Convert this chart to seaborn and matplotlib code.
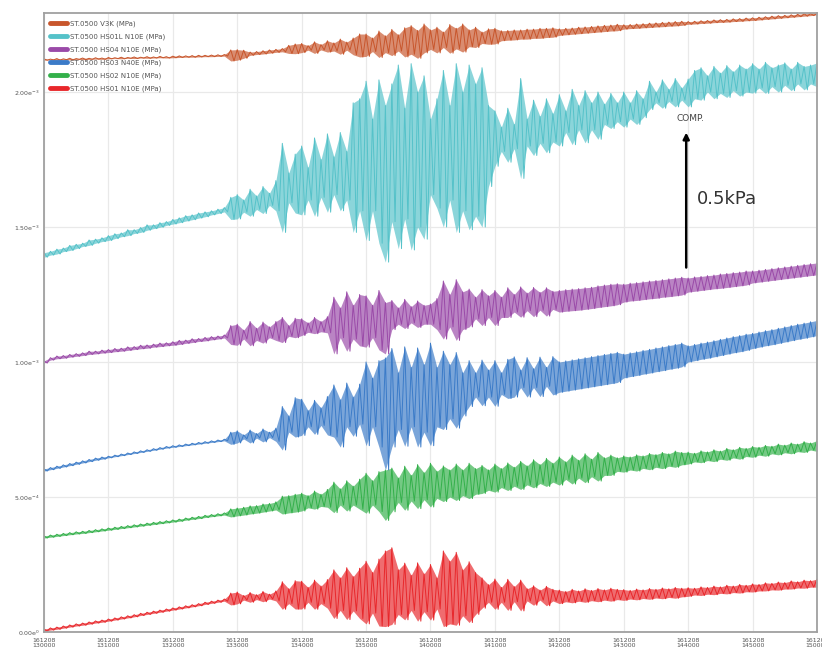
import numpy as np
import pandas as pd
import matplotlib
matplotlib.use("Agg")
import matplotlib.pyplot as plt
import seaborn as sns
from matplotlib.ticker import MultipleLocator, FixedLocator

# ---------------- data (values in Pa, per-minute max / min of each trace) -------------
minutes = list(range(121))  # minutes after 13:00:00

series_names = ["ST.0500 V3K (MPa)", "ST.0500 HS01L N10E (MPa)", "ST.0500 HS04 N10E (MPa)",
                "ST.0500 HS03 N40E (MPa)", "ST.0500 HS02 N10E (MPa)", "ST.0500 HS01 N10E (MPa)"]
series_colors = ["#c8562c", "#55c2c9", "#9a4aa8", "#3b7bc8", "#33b04a", "#e8272b"]

x_tick_minutes = list(range(0, 121, 10))
x_tick_labels = ["161208\n130000", "161208\n131000", "161208\n132000", "161208\n133000",
                 "161208\n134000", "161208\n135000", "161208\n140000", "161208\n141000",
                 "161208\n142000", "161208\n143000", "161208\n144000", "161208\n145000",
                 "161208\n150000"]
y_ticks = [0.0, 5e-4, 1e-3, 1.5e-3, 2e-3]
y_tick_labels = [r"0.00e$^{0}$", r"5.00e$^{-4}$", r"1.00e$^{-3}$", r"1.50e$^{-3}$", r"2.00e$^{-3}$"]

orange_hi = [2123,2122,2124,2123,2125,2124,2126,2125,2127,2126,
             2128,2127,2129,2128,2130,2129,2131,2130,2132,2131,
             2133,2134,2134,2135,2136,2136,2137,2138,2139,2156,
             2157,2155,2148,2150,2153,2156,2158,2161,2173,2178,
             2180,2172,2186,2176,2190,2182,2196,2185,2200,2215,
             2215,2200,2226,2208,2232,2212,2238,2246,2228,2252,
             2230,2240,2222,2250,2236,2252,2230,2240,2222,2234,
             2236,2227,2228,2230,2230,2233,2233,2236,2236,2238,
             2234,2236,2237,2240,2241,2243,2245,2247,2248,2251,
             2249,2250,2252,2253,2255,2256,2258,2259,2261,2262,
             2261,2262,2264,2265,2267,2268,2269,2271,2272,2274,
             2275,2277,2279,2281,2283,2284,2286,2288,2290,2291,2292]
orange_lo = [2118,2119,2118,2120,2119,2121,2120,2121,2122,2121,
             2123,2124,2123,2125,2124,2126,2125,2126,2127,2126,
             2127,2128,2129,2129,2130,2131,2131,2132,2133,2115,
             2118,2125,2136,2139,2141,2144,2147,2149,2143,2142,
             2146,2155,2143,2156,2148,2152,2140,2155,2138,2130,
             2132,2150,2128,2146,2135,2152,2130,2140,2125,2145,
             2158,2145,2165,2144,2160,2148,2168,2165,2180,2177,
             2178,2190,2192,2193,2196,2196,2199,2199,2202,2203,
             2210,2212,2214,2216,2218,2220,2222,2224,2226,2227,
             2233,2235,2236,2238,2239,2241,2242,2244,2245,2247,
             2251,2252,2254,2255,2257,2258,2259,2261,2262,2264,
             2265,2267,2269,2271,2273,2275,2277,2279,2281,2283,2286]

cyan_hi = [1405,1410,1418,1422,1432,1436,1440,1452,1455,1460,
           1468,1475,1478,1490,1490,1498,1508,1508,1516,1520,
           1528,1534,1542,1545,1552,1556,1560,1566,1572,1610,
           1620,1600,1640,1615,1650,1625,1672,1810,1700,1770,
           1800,1720,1830,1750,1845,1760,1850,1780,1960,1975,
           2040,1900,2045,1950,2030,2100,1940,2105,2000,2060,
           1900,1975,2080,1950,2105,2000,2100,2030,2090,1950,
           1930,1870,1940,1880,2050,1900,1970,1910,1975,1920,
           1990,1930,2010,1950,2005,1960,2000,1955,1995,1960,
           2000,1960,2005,1975,2040,2000,2045,2010,2050,2015,
           2048,2080,2090,2060,2095,2070,2098,2075,2100,2085,
           2105,2085,2110,2090,2100,2108,2085,2110,2095,2100,2108]
cyan_lo = [1388,1396,1400,1409,1413,1420,1428,1432,1440,1446,
           1450,1457,1464,1468,1476,1480,1488,1494,1499,1506,
           1511,1516,1522,1527,1533,1538,1545,1550,1556,1528,
           1530,1555,1540,1565,1550,1580,1560,1480,1590,1552,
           1545,1600,1540,1610,1555,1620,1560,1600,1480,1560,
           1450,1560,1440,1370,1520,1420,1530,1415,1500,1455,
           1620,1570,1500,1600,1480,1560,1490,1540,1500,1650,
           1725,1780,1740,1790,1680,1800,1765,1810,1775,1815,
           1800,1850,1805,1860,1812,1860,1825,1880,1865,1890,
           1870,1900,1880,1905,1935,1960,1940,1965,1945,1970,
           1945,1975,1970,2000,1975,1995,1980,2005,1985,2000,
           1996,2015,1995,2020,2000,2025,2005,2030,2008,2030,2020]

purple_hi = [1004,1016,1022,1024,1028,1031,1034,1040,1040,1044,
             1046,1050,1051,1056,1057,1062,1063,1066,1070,1071,
             1075,1080,1081,1086,1087,1091,1094,1096,1100,1135,
             1140,1118,1150,1125,1148,1130,1150,1165,1135,1162,
             1160,1145,1165,1150,1168,1240,1200,1260,1210,1250,
             1245,1210,1265,1220,1228,1200,1232,1205,1226,1210,
             1215,1235,1300,1250,1305,1260,1270,1240,1268,1245,
             1265,1240,1275,1250,1278,1255,1276,1258,1275,1262,
             1265,1268,1270,1272,1275,1277,1282,1285,1288,1290,
             1288,1292,1294,1297,1300,1302,1305,1308,1311,1314,
             1311,1315,1317,1320,1322,1326,1328,1331,1333,1337,
             1337,1340,1343,1346,1349,1352,1355,1358,1361,1364,1367]
purple_lo = [996,1007,1012,1014,1018,1021,1024,1028,1030,1033,
             1035,1038,1040,1043,1046,1049,1051,1055,1057,1060,
             1062,1065,1069,1072,1076,1078,1082,1085,1089,1065,
             1062,1085,1060,1080,1070,1090,1080,1072,1095,1090,
             1098,1110,1105,1112,1108,1030,1090,1040,1085,1060,
             1055,1090,1045,1030,1120,1140,1124,1145,1128,1140,
             1140,1120,1085,1130,1080,1120,1130,1160,1135,1165,
             1135,1165,1165,1185,1166,1190,1168,1192,1170,1195,
             1185,1188,1190,1192,1195,1198,1202,1205,1208,1212,
             1222,1226,1228,1231,1234,1236,1240,1242,1245,1248,
             1259,1262,1265,1268,1271,1273,1276,1279,1282,1285,
             1293,1296,1299,1302,1305,1308,1311,1314,1317,1320,1323]

blue_hi = [604,609,614,619,624,629,634,639,644,648,
           651,655,659,663,667,671,675,679,683,687,
           690,693,696,699,702,705,708,711,714,740,
           745,730,748,735,752,740,755,835,800,868,
           862,820,858,830,872,915,860,922,870,918,
           1000,940,1005,1015,1050,960,1056,980,1052,990,
           1070,980,1040,990,1035,960,1005,960,1007,970,
           1005,960,1010,1019,970,1016,975,1018,980,1020,
           1000,1004,1008,1012,1016,1020,1024,1028,1032,1036,
           1029,1034,1038,1043,1047,1052,1056,1061,1065,1070,
           1060,1065,1070,1074,1079,1084,1089,1094,1098,1103,
           1106,1111,1116,1120,1125,1130,1135,1140,1144,1149,1154]
blue_lo = [596,601,606,611,616,621,626,631,636,640,
           645,649,653,657,661,665,669,673,677,681,
           684,687,690,693,696,699,702,705,708,695,
           700,715,700,718,704,720,706,674,740,722,
           728,760,732,765,730,722,685,760,725,770,
           690,760,685,600,685,750,688,760,685,740,
           690,760,750,790,755,800,835,870,838,870,
           836,880,865,870,905,870,905,872,910,878,
           888,892,896,900,904,908,912,916,920,924,
           941,946,950,955,959,964,968,973,977,982,
           1000,1005,1010,1014,1019,1024,1029,1034,1038,1043,
           1050,1055,1060,1064,1069,1074,1079,1084,1088,1093,1098]

green_hi = [356,359,362,365,368,371,373,376,379,382,
            385,388,391,394,397,400,403,406,409,412,
            415,418,422,425,428,432,435,438,441,456,
            459,462,467,468,474,476,482,503,505,510,
            514,505,522,510,528,555,530,560,540,566,
            588,560,594,600,607,570,614,580,620,590,
            625,595,615,600,622,600,625,605,617,600,
            622,605,626,610,632,615,638,620,643,625,
            648,630,655,636,660,640,665,645,655,645,
            652,648,656,652,661,657,665,660,670,665,
            666,662,671,667,675,670,680,675,684,680,
            687,684,691,688,696,692,700,696,705,700,709]
green_lo = [348,351,354,357,360,363,365,368,371,374,
            377,380,383,386,389,392,395,398,401,404,
            407,410,414,417,420,424,427,430,433,426,
            430,433,437,440,444,448,452,437,441,444,
            448,460,455,465,462,442,470,448,470,455,
            440,470,446,413,445,480,451,485,457,490,
            463,495,483,500,487,505,494,510,513,525,
            518,535,524,540,528,545,534,550,539,555,
            544,565,548,570,553,575,559,580,580,595,
            592,600,596,606,601,610,605,614,610,619,
            622,630,627,635,631,640,636,645,640,650,
            647,655,651,660,656,664,660,668,665,674,669]

red_hi = [11,15,18,22,26,30,33,37,41,44,
          48,52,56,60,64,69,73,77,81,85,
          89,93,97,101,105,110,114,118,122,144,
          148,135,146,138,150,140,152,186,160,190,
          188,165,192,170,194,230,200,238,205,236,
          262,220,270,300,312,230,255,210,256,215,
          250,200,300,262,295,230,260,220,200,175,
          196,165,195,168,192,160,171,155,169,158,
          155,150,158,152,160,154,161,156,162,158,
          157,154,159,156,161,158,163,160,165,162,
          164,162,167,165,170,167,173,170,176,173,
          178,176,182,180,185,183,189,186,192,190,196]
red_lo = [3,7,10,14,18,22,25,29,33,36,
          40,44,48,52,56,61,65,69,73,77,
          81,85,89,93,97,102,106,110,114,100,
          104,118,110,120,112,122,115,84,105,85,
          85,110,84,105,88,50,80,46,78,50,
          30,70,22,20,28,65,45,80,40,75,
          44,85,20,30,25,60,35,65,88,110,
          84,110,80,112,78,115,99,118,97,115,
          105,112,108,114,110,116,112,118,114,120,
          117,122,119,124,121,126,123,128,125,130,
          132,137,135,140,138,143,141,146,144,149,
          148,152,152,156,155,159,159,163,162,166,166]

hi_lists = [orange_hi, cyan_hi, purple_hi, blue_hi, green_hi, red_hi]
lo_lists = [orange_lo, cyan_lo, purple_lo, blue_lo, green_lo, red_lo]

# scale bar annotation (0.5 kPa)
scale_value_mpa = 5e-4
scale_label = "0.5kPa"

# ---------------- build table ----------------
records = []
for name, hi, lo in zip(series_names, hi_lists, lo_lists):
    for m, h, l in zip(minutes, hi, lo):
        records.append((name, m, h * 1e-6))
        records.append((name, m + 0.5, l * 1e-6))
df = pd.DataFrame(records, columns=["series", "minute", "MPa"])

# ---------------- plot ----------------
sns.set_style("white")
plt.rcParams['font.family'] = ['DejaVu Sans']

fig = plt.figure(figsize=(8.22, 6.57), dpi=100)
ax = fig.add_axes([0.0535, 0.0381, 0.9404, 0.9422])

# envelope band (per-minute max / min)
for name, col, hi, lo in zip(series_names, series_colors, hi_lists, lo_lists):
    ax.fill_between(minutes, np.array(lo) * 1e-6, np.array(hi) * 1e-6,
                    color=col, alpha=0.68, linewidth=0)

sns.lineplot(data=df, x="minute", y="MPa", hue="series", hue_order=series_names,
             palette=dict(zip(series_names, series_colors)), estimator=None,
             linewidth=0.7, ax=ax, legend=True)

ax.set_xlim(0, 120)
ax.set_ylim(0, 2.293e-3)
ax.set_xlabel("")
ax.set_ylabel("")

ax.xaxis.set_major_locator(FixedLocator(x_tick_minutes))
ax.set_xticklabels(x_tick_labels)
ax.xaxis.set_minor_locator(MultipleLocator(2))
ax.yaxis.set_major_locator(FixedLocator(y_ticks))
ax.set_yticklabels(y_tick_labels)
ax.yaxis.set_minor_locator(MultipleLocator(1e-4))

ax.tick_params(axis='both', which='major', direction='in', length=4, width=0.8,
               color='#999999', labelsize=4.5, labelcolor='#555555')
ax.tick_params(axis='y', which='major', pad=3)
ax.tick_params(axis='x', which='major', pad=4)
ax.tick_params(axis='both', which='minor', direction='in', length=2, width=0.6, color='#aaaaaa')
ax.grid(True, which='major', color='#e9e9e9', linewidth=0.9)
ax.set_axisbelow(True)
for sp in ax.spines.values():
    sp.set_color('#a0a0a0')
    sp.set_linewidth(1.3)

# legend
handles, labels = ax.get_legend_handles_labels()
leg = ax.legend(handles, labels, loc='upper left', bbox_to_anchor=(0.004, 0.993),
                frameon=False, fontsize=5, handlelength=2.4, handletextpad=0.5,
                labelspacing=0.95, borderaxespad=0)
for h in leg.get_lines():
    h.set_linewidth(3.5)
for t in leg.get_texts():
    t.set_color('#555555')

# scale arrow and labels
arrow_x = 99.7
arrow_base = 1.35e-3
ax.annotate("", xy=(arrow_x, arrow_base + scale_value_mpa), xytext=(arrow_x, arrow_base),
            arrowprops=dict(arrowstyle='-|>', color='black', lw=1.8, mutation_scale=9,
                            shrinkA=0, shrinkB=0))
ax.text(arrow_x + 0.6, arrow_base + scale_value_mpa + 0.035e-3, "COMP.", ha='center',
        va='bottom', fontsize=6.5, color='#444444')
ax.text(arrow_x + 1.7, arrow_base + 0.255e-3, scale_label, ha='left', va='center',
        fontsize=13, color='#333333')

fig.savefig("out.png", dpi=100)
